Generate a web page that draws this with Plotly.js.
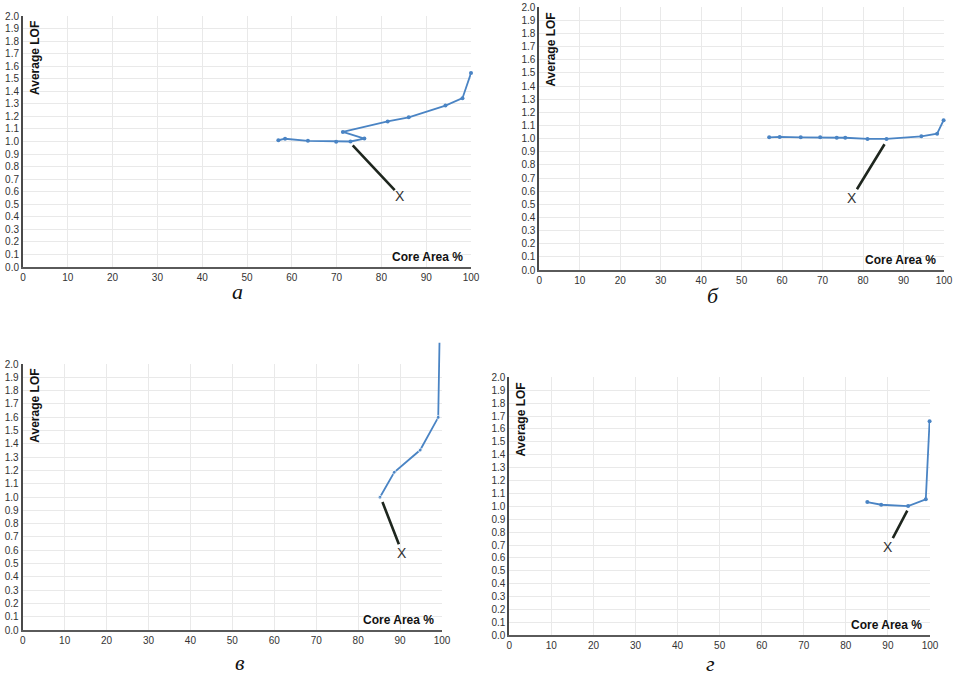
<!DOCTYPE html>
<html>
<head>
<meta charset="utf-8">
<script src="https://cdn.plot.ly/plotly-3.0.1.min.js"></script>
<style>html,body{margin:0;padding:0;background:#fff;}#chart{width:959px;height:675px;}</style>
</head>
<body>
<div id="chart"></div>
<script>
// ---- data ----
const aX = [57, 58.5, 63.6, 69.9, 73.1, 76.2, 71.4, 81.4, 86.1, 94.3, 98.1, 100];
const aY = [1.01, 1.022, 1.005, 0.998, 1.0, 1.023, 1.076, 1.16, 1.193, 1.286, 1.345, 1.545];
const bX = [56.8, 59.4, 64.6, 69.4, 73.5, 75.6, 81.1, 85.8, 94.4, 98.3, 99.9];
const bY = [1.01, 1.013, 1.01, 1.01, 1.007, 1.007, 0.998, 0.998, 1.018, 1.038, 1.14];
const vX = [85.2, 88.6, 94.8, 99.1, 99.4];
const vY = [0.998, 1.186, 1.353, 1.599, 2.16];
const gX = [85.1, 88.4, 94.8, 99.0, 99.9];
const gY = [1.033, 1.012, 1.002, 1.054, 1.66];

const calloutTipX = [73.6, 85.3, 85.8, 94.6];
const calloutTipY = [0.97, 0.957, 0.962, 0.966];
const calloutLabelX = [84.2, 77.2, 90.5, 90.1];
const calloutLabelY = [0.566, 0.55, 0.581, 0.687];
const calloutText = ["X", "X", "X", "X"];

const panelLabels = ["а", "б", "в", "г"];
const xTitle = "Core Area %";
const yTitle = "Average LOF";

// ---- layout geometry (pixels) ----
const W = 959, H = 675;
const boxes = [ // left, right, top, bottom
  [23, 471, 16, 267],
  [539.3, 944, 7.3, 270],
  [22.7, 442, 364, 630],
  [509.3, 930, 377.3, 635.3]
];
const captionPos = [[237, 291], [713, 295], [240, 662], [710, 663]];
const vTopPx = 338; // extended top for panel в line

const lineColor = '#4a84c4';
const layout = {
  width: W, height: H,
  margin: {l: 0, r: 0, t: 0, b: 0},
  paper_bgcolor: '#ffffff',
  plot_bgcolor: 'rgba(0,0,0,0)',
  showlegend: false,
  annotations: [],
  font: {family: 'Liberation Sans, Arial, sans-serif', color: '#333'}
};

function axX(b, anchor) {
  return {
    domain: [b[0] / W, b[1] / W], range: [0, 100], dtick: 10, anchor: anchor,
    showgrid: true, gridcolor: '#e9e9e9', gridwidth: 1,
    showline: true, linecolor: '#5a5a5a', linewidth: 2,
    zeroline: false, ticks: '', fixedrange: true,
    tickfont: {family: 'Liberation Sans, Arial, sans-serif', size: 10, color: '#333'}
  };
}
function axY(b, anchor) {
  return {
    domain: [1 - b[3] / H, 1 - b[2] / H], range: [0, 2], dtick: 0.1, tickformat: '.1f', anchor: anchor,
    showgrid: true, gridcolor: '#e9e9e9', gridwidth: 1,
    showline: true, linecolor: '#4a4a4a', linewidth: 2,
    zeroline: false, ticks: '', fixedrange: true,
    tickfont: {family: 'Liberation Sans, Arial, sans-serif', size: 10, color: '#333'}
  };
}

const suffix = ['', '2', '3', '4'];
boxes.forEach((b, i) => {
  const s = suffix[i];
  layout['xaxis' + s] = axX(b, 'y' + s);
  layout['yaxis' + s] = axY(b, 'x' + s);
  const xr = 'x' + s, yr = 'y' + s;
  // axis titles inside plot area
  layout.annotations.push({
    xref: xr + ' domain', yref: yr + ' domain', x: 0, y: 1,
    xanchor: 'left', yanchor: 'top', xshift: 3, yshift: -3,
    text: '<b>' + yTitle + '</b>', textangle: -90, showarrow: false,
    font: {family: 'Liberation Sans, Arial, sans-serif', size: 12, color: '#111'}
  });
  layout.annotations.push({
    xref: xr + ' domain', yref: yr + ' domain', x: 1, y: 0,
    xanchor: 'right', yanchor: 'bottom', xshift: -6, yshift: 1,
    text: '<b>' + xTitle + '</b>', showarrow: false,
    font: {family: 'Liberation Sans, Arial, sans-serif', size: 12, color: '#111'}
  });
  // callout line with X
  layout.annotations.push({
    xref: xr, yref: yr, axref: xr, ayref: yr,
    x: calloutTipX[i], y: calloutTipY[i], ax: calloutLabelX[i], ay: calloutLabelY[i],
    text: calloutText[i], showarrow: true, arrowhead: 0, arrowwidth: 2.6, arrowcolor: '#1e261e',
    standoff: 0, borderpad: 0,
    font: {family: 'Liberation Sans, Arial, sans-serif', size: 14, color: '#333'}
  });
  // panel caption
  layout.annotations.push({
    xref: 'paper', yref: 'paper', x: captionPos[i][0] / W, y: 1 - captionPos[i][1] / H,
    xanchor: 'center', yanchor: 'middle', showarrow: false,
    text: '<i>' + panelLabels[i] + '</i>',
    font: {family: 'Liberation Serif, Times New Roman, serif', size: 22, color: '#111'}
  });
});

// extra invisible subplot for panel в so its line can run above the plot top
const vb = boxes[2];
const vScale = (vb[3] - vb[2]) / 2; // px per unit
layout.xaxis5 = {domain: [vb[0] / W, vb[1] / W], range: [0, 100], anchor: 'y5', visible: false, fixedrange: true};
layout.yaxis5 = {domain: [1 - vb[3] / H, 1 - vTopPx / H], range: [0, (vb[3] - vTopPx) / vScale], anchor: 'x5', visible: false, fixedrange: true};

function tr(x, y, xa, ya, sizes) {
  return {
    x: x, y: y, xaxis: xa, yaxis: ya, type: 'scatter', mode: 'lines+markers',
    line: {color: lineColor, width: 1.8},
    marker: {color: lineColor, size: sizes || 4},
    cliponaxis: false, hoverinfo: 'skip'
  };
}

const data = [
  tr(aX, aY, 'x', 'y'),
  tr(bX, bY, 'x2', 'y2'),
  {x: [], y: [], xaxis: 'x3', yaxis: 'y3', type: 'scatter'},
  tr(gX, gY, 'x4', 'y4'),
  tr(vX, vY, 'x5', 'y5', vX.map((v, k) => k === vX.length - 1 ? 0 : 4))
];

Plotly.newPlot('chart', data, layout, {staticPlot: true, displayModeBar: false});
</script>
</body>
</html>
